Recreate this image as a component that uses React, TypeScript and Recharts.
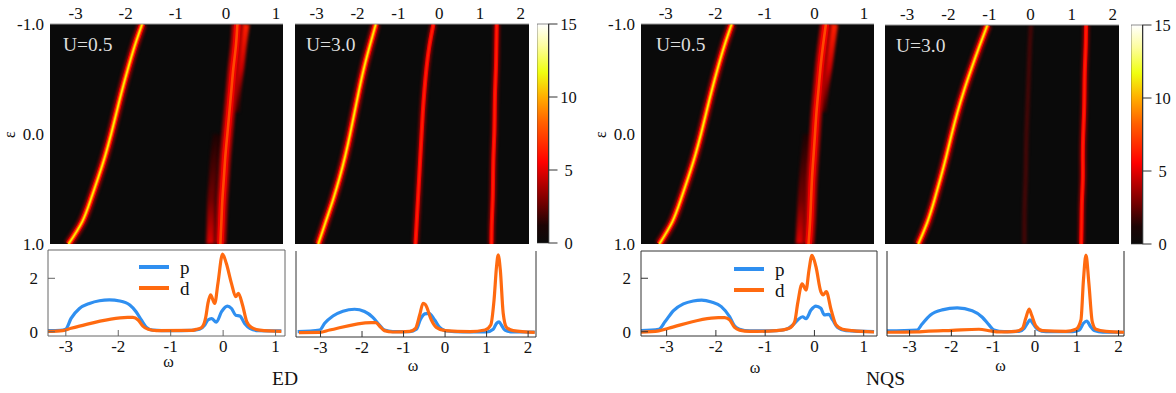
import { ComposedChart, BarChart, Bar, Line, XAxis, YAxis, CartesianGrid, Legend } from 'recharts';

const SERIF = '"Liberation Serif", "Times New Roman", serif';

// energy levels on the vertical axis of the maps
const EPS = [-1, -0.8, -0.6, -0.4, -0.2, 0, 0.2, 0.4, 0.6, 0.8, 1];
const EPS_TOP = [-1, -0.8, -0.6, -0.4, -0.2];
const EPS_BOTTOM = [0, 0.2, 0.4, 0.6, 0.8, 1];

// ED U=0.5 map
const edA_lower = [-1.67, -1.82, -1.95, -2.07, -2.18, -2.29, -2.41, -2.55, -2.7, -2.87, -3.14];
const edA_main = [0.23, 0.2, 0.15, 0.11, 0.07, 0.03, -0.01, -0.04, -0.07, -0.09, -0.11];
const edA_right = [0.4, 0.34, 0.29, 0.23, 0.19];
const edA_left = [-0.18, -0.23, -0.26, -0.29, -0.3, -0.31];

// ED U=3.0 map
const edB_lower = [-1.55, -1.7, -1.84, -1.96, -2.07, -2.18, -2.3, -2.44, -2.6, -2.78, -2.96];
const edB_mid = [-0.14, -0.24, -0.31, -0.36, -0.4, -0.43, -0.46, -0.49, -0.52, -0.55, -0.58];
const edB_upper = [1.41, 1.4, 1.39, 1.37, 1.36, 1.35, 1.33, 1.32, 1.31, 1.29, 1.28];

// NQS U=0.5 map
const nqsA_lower = [-1.67, -1.82, -1.95, -2.07, -2.18, -2.29, -2.41, -2.55, -2.7, -2.87, -3.13];
const nqsA_main = [0.23, 0.17, 0.12, 0.08, 0.04, 0.01, -0.02, -0.05, -0.07, -0.09, -0.12];
const nqsA_right = [0.4, 0.34, 0.28, 0.21, 0.16];
const nqsA_left = [-0.15, -0.19, -0.23, -0.26, -0.28, -0.3];

// NQS U=3.0 map
const nqsB_lower = [-1.05, -1.25, -1.44, -1.62, -1.78, -1.92, -2.05, -2.19, -2.34, -2.51, -2.73];
const nqsB_mid = [0.01, -0.02, -0.04, -0.06, -0.08, -0.1, -0.11, -0.12, -0.14, -0.15, -0.15];
const nqsB_upper = [1.35, 1.34, 1.32, 1.31, 1.3, 1.28, 1.27, 1.27, 1.25, 1.24, 1.23];

// spectra, ED U=0.5
const edA_pw = [-3.34, -3.1, -3.0, -2.9, -2.74, -2.55, -2.36, -2.17, -1.97, -1.78, -1.66, -1.56, -1.46, -1.34, -1.0, -0.6, -0.45, -0.35, -0.29, -0.22, -0.13, -0.03, 0.08, 0.16, 0.24, 0.32, 0.41, 0.51, 0.67, 1.11];
const edA_p = [0.04, 0.05, 0.1, 0.5, 0.87, 1.06, 1.16, 1.19, 1.15, 1.0, 0.75, 0.44, 0.16, 0.06, 0.04, 0.05, 0.09, 0.25, 0.44, 0.49, 0.36, 0.75, 0.96, 0.87, 0.62, 0.59, 0.31, 0.13, 0.04, 0.03];
const edA_dw = [-3.34, -3.06, -2.9, -2.74, -1.82, -1.72, -1.62, -1.53, -1.43, -1.27, -0.6, -0.51, -0.41, -0.33, -0.29, -0.24, -0.16, -0.1, -0.01, 0.06, 0.16, 0.24, 0.29, 0.37, 0.45, 0.54, 0.7, 1.11];
const edA_d = [0.01, 0.04, 0.13, 0.21, 0.54, 0.54, 0.44, 0.21, 0.09, 0.04, 0.05, 0.09, 0.16, 0.56, 1.06, 1.38, 1.06, 1.8, 2.91, 2.56, 1.8, 1.31, 1.44, 1.0, 0.38, 0.16, 0.06, 0.01];

// spectra, ED U=3.0
const edB_pw = [-3.55, -3.02, -2.9, -2.7, -2.46, -2.18, -1.94, -1.74, -1.58, -1.46, -1.26, -0.85, -0.69, -0.6, -0.49, -0.39, -0.25, -0.13, 0.03, 0.43, 1.0, 1.16, 1.24, 1.3, 1.36, 1.44, 1.64, 2.16];
const edB_p = [0.02, 0.1, 0.45, 0.83, 1.08, 1.18, 1.06, 0.76, 0.36, 0.1, 0.02, 0.02, 0.14, 0.62, 0.94, 0.97, 0.62, 0.24, 0.05, 0, 0, 0.14, 0.45, 0.52, 0.35, 0.1, 0, 0];
const edB_dw = [-3.52, -3.02, -2.78, -1.78, -1.67, -1.58, -1.46, -1.26, -0.85, -0.71, -0.61, -0.53, -0.47, -0.33, -0.21, 0, 0.6, 0.96, 1.1, 1.18, 1.24, 1.28, 1.33, 1.4, 1.48, 1.64, 2.16];
const edB_d = [-0.03, -0.02, 0.1, 0.49, 0.49, 0.31, 0.07, 0, 0.03, 0.19, 0.89, 1.49, 1.41, 0.62, 0.24, 0.07, 0.02, 0.1, 0.36, 1.67, 3.4, 4.0, 3.23, 0.97, 0.24, 0.07, -0.02];

// spectra, NQS U=0.5
const nqsA_pw = [-3.52, -3.16, -3.03, -2.86, -2.66, -2.46, -2.29, -2.09, -1.89, -1.72, -1.62, -1.52, -1.31, -0.77, -0.57, -0.44, -0.34, -0.24, -0.17, -0.07, 0.03, 0.13, 0.2, 0.29, 0.37, 0.47, 0.64, 1.21];
const nqsA_p = [0.04, 0.09, 0.38, 0.79, 1.04, 1.15, 1.18, 1.11, 0.94, 0.56, 0.21, 0.09, 0.03, 0.04, 0.09, 0.25, 0.44, 0.56, 0.49, 0.81, 0.96, 0.88, 0.63, 0.65, 0.44, 0.16, 0.04, 0];
const nqsA_dw = [-3.52, -3.16, -2.96, -1.95, -1.82, -1.72, -1.62, -1.52, -1.31, -0.77, -0.51, -0.4, -0.34, -0.25, -0.17, -0.11, -0.05, 0.03, 0.13, 0.18, 0.24, 0.34, 0.44, 0.57, 0.77, 1.21];
const nqsA_d = [-0.02, 0.03, 0.13, 0.53, 0.53, 0.44, 0.16, 0.06, 0.01, 0.04, 0.13, 0.38, 1.06, 1.79, 1.56, 2.31, 2.86, 2.44, 1.5, 1.38, 1.5, 0.81, 0.25, 0.09, 0.04, -0.01];

// spectra, NQS U=3.0
const nqsB_pw = [-3.54, -2.82, -2.7, -2.5, -2.22, -1.86, -1.5, -1.26, -1.1, -0.98, -0.74, -0.38, -0.26, -0.18, -0.12, -0.04, 0.06, 0.26, 0.9, 1.06, 1.16, 1.24, 1.32, 1.42, 1.62, 2.13];
const nqsB_p = [0.07, 0.13, 0.53, 1.13, 1.47, 1.6, 1.42, 0.98, 0.47, 0.13, 0.02, 0.04, 0.24, 0.58, 0.8, 0.53, 0.18, 0.02, 0.02, 0.13, 0.58, 0.73, 0.4, 0.09, -0.02, -0.02];
const nqsB_dw = [-3.54, -2.82, -2.62, -1.98, -1.34, -1.06, -0.86, -0.46, -0.3, -0.22, -0.14, -0.08, 0.02, 0.18, 0.74, 0.98, 1.1, 1.16, 1.22, 1.29, 1.37, 1.46, 1.7, 2.13];
const nqsB_d = [-0.02, 0, 0.04, 0.11, 0.18, 0.07, 0, 0.04, 0.24, 0.91, 1.53, 1.13, 0.4, 0.09, 0.04, 0.18, 0.8, 3.47, 5.13, 3.24, 0.69, 0.18, 0.04, -0.02];

const xTicksA = [-3, -2, -1, 0, 1];
const xTicksB = [-3, -2, -1, 0, 1, 2];
const epsTicks = [-1, 0, 1];
const barTicks = [0, 5, 10, 15];

const BLUE = '#2f8ff0';
const ORANGE = '#ff6a10';

const HOT = [
  { w: 9, c: '#a00000', soft: true },
  { w: 6, c: '#f40000' },
  { w: 3.6, c: '#ff7000' },
  { w: 1.6, c: '#ffec00' },
];
const RED = [
  { w: 6.5, c: '#900000', soft: true },
  { w: 4, c: '#f40000' },
  { w: 1.8, c: '#ff1c00' },
];
const BROAD = [
  { w: 11, c: '#c00000', soft: true },
  { w: 6.5, c: '#ec0000' },
  { w: 2.6, c: '#ff4800' },
];
const DIM = [{ w: 4, c: '#4a0606', soft: true }];
const FADE_UP = [{ w: 8, c: 'url(#fadeUp)', soft: true }];
const FADE_DOWN = [{ w: 7.5, c: 'url(#fadeDown)', soft: true }];

const mapA = (lower, main, right, left) => [
  { omega: left, eps: EPS_BOTTOM, layers: FADE_UP },
  { omega: right, eps: EPS_TOP, layers: FADE_DOWN },
  { omega: main, eps: EPS, layers: BROAD },
  { omega: lower, eps: EPS, layers: HOT },
];

const colormap = [
  { at: 0, c: '#ffffff' },
  { at: 0.1, c: '#fdfda0' },
  { at: 0.22, c: '#f0ff10' },
  { at: 0.33, c: '#ffb000' },
  { at: 0.45, c: '#ff6000' },
  { at: 0.63, c: '#ff0000' },
  { at: 0.82, c: '#700000' },
  { at: 0.92, c: '#1c0404' },
  { at: 1, c: '#0a0a0a' },
];

function MapPanel({ x, y, w, h, domain, ticks, bands, showEps, label, labelX }) {
  const padL = 50;
  const padT = 24;
  const tail = 12;
  return (
    <div style={{ position: 'absolute', left: x - padL, top: y - padT }} className="heat">
      <ComposedChart width={w + padL + 6} height={h + padT + tail} margin={{ top: 0, right: 6, bottom: tail - 1, left: 0 }}>
        <defs>
          <linearGradient id="fadeUp" x1="0" y1="0" x2="0" y2="1">
            <stop offset="0" stopColor="#1c0202" />
            <stop offset="0.6" stopColor="#700000" />
            <stop offset="1" stopColor="#e00000" />
          </linearGradient>
          <linearGradient id="fadeDown" x1="0" y1="0" x2="0" y2="1">
            <stop offset="0" stopColor="#ff2000" />
            <stop offset="0.5" stopColor="#d00000" />
            <stop offset="1" stopColor="#380000" />
          </linearGradient>
        </defs>
        <CartesianGrid fill="#0a0a0a" horizontal={false} vertical={false} />
        <XAxis
          type="number"
          dataKey="x"
          orientation="top"
          height={padT}
          domain={domain}
          ticks={ticks}
          interval={0}
          allowDataOverflow
          stroke="#999"
          tickLine={false}
          tickSize={0}
          tickMargin={5}
        />
        <XAxis
          xAxisId="low"
          type="number"
          dataKey="x"
          orientation="bottom"
          height={1}
          domain={domain}
          ticks={ticks}
          interval={0}
          allowDataOverflow
          axisLine={false}
          tick={false}
          tickSize={-7}
          stroke="#555"
        />
        <YAxis
          type="number"
          dataKey="y"
          width={padL}
          reversed
          domain={[-1, 1]}
          ticks={epsTicks}
          interval={0}
          allowDataOverflow
          axisLine={false}
          tickLine={false}
          tickSize={0}
          tickMargin={6}
          tick={showEps}
          tickFormatter={(v) => v.toFixed(1)}
          label={showEps ? { value: 'ε', angle: -90, position: 'insideLeft', offset: 9, dy: 4 } : undefined}
        />
        {bands.flatMap((b, i) =>
          b.layers.map((l, j) => (
            <Line
              key={`${i}-${j}`}
              className={l.soft ? 'soft' : undefined}
              data={b.eps.map((e, k) => ({ x: b.omega[k], y: e }))}
              dataKey="y"
              type="natural"
              stroke={l.c}
              strokeWidth={l.w}
              dot={false}
              activeDot={false}
              legendType="none"
              isAnimationActive={false}
            />
          ))
        )}
      </ComposedChart>
      <div style={{ position: 'absolute', left: labelX, top: 34, color: '#ddd', fontFamily: SERIF, fontSize: 19.5, lineHeight: '22px' }}>{label}</div>
    </div>
  );
}

const renderKey = ({ payload }) => (
  <div style={{ fontFamily: SERIF, fontSize: 19, color: '#111' }}>
    {payload.map((e) => (
      <div key={e.value} style={{ display: 'flex', alignItems: 'center', height: 21 }}>
        <span style={{ width: 30, height: 3.4, background: e.color, marginRight: 11 }} />
        <span style={{ lineHeight: '21px' }}>{e.value}</span>
      </div>
    ))}
  </div>
);

function SpectrumPanel({ x, y, w, h, domain, yDomain, ticks, yTicks, showY, frame, pw, p, dw, d, keyAt, keyTop, labelShift, labelDrop, sideTicks }) {
  const padL = 40;
  const padT = 4;
  const padB = 50;
  return (
    <div style={{ position: 'absolute', left: x - padL, top: y - padT }}>
      <ComposedChart width={w + padL + 10} height={h + padT + padB} margin={{ top: padT, right: 10, bottom: 0, left: 0 }}>
        <CartesianGrid stroke={frame} horizontalValues={[yDomain[1]]} verticalValues={[domain[1]]} />
        <XAxis
          type="number"
          dataKey="x"
          height={padB}
          domain={domain}
          ticks={ticks}
          interval={0}
          allowDataOverflow
          stroke={frame}
          tickSize={-6}
          tickMargin={10}
          label={{ value: 'ω', position: 'insideBottom', offset: 16, dx: labelShift, dy: labelDrop }}
        />
        <YAxis
          type="number"
          dataKey="y"
          width={padL}
          domain={yDomain}
          ticks={yTicks}
          interval={0}
          allowDataOverflow
          stroke={frame}
          tickSize={-7}
          tickMargin={17}
          tick={!!showY}
        />
        {sideTicks ? (
          <YAxis yAxisId="side" type="number" orientation="right" width={1} domain={yDomain} ticks={sideTicks} interval={0} tick={false} tickSize={6} stroke="#aaa" axisLine={false} />
        ) : null}
        <Line name="p" data={pw.map((v, i) => ({ x: v, y: p[i] }))} dataKey="y" type="monotone" stroke={BLUE} strokeWidth={3.2} dot={false} activeDot={false} isAnimationActive={false} />
        <Line name="d" data={dw.map((v, i) => ({ x: v, y: d[i] }))} dataKey="y" type="monotone" stroke={ORANGE} strokeWidth={3.2} dot={false} activeDot={false} isAnimationActive={false} />
        {keyAt ? <Legend content={renderKey} layout="horizontal" verticalAlign="middle" itemSorter={null} wrapperStyle={{ left: keyAt, top: keyTop, width: 70 }} /> : null}
      </ComposedChart>
    </div>
  );
}

function ColorBar({ x, y, h }) {
  return (
    <div style={{ position: 'absolute', left: x, top: y - 10 }}>
      <BarChart width={46} height={h + 20} data={[{ name: 'scale', v: 15 }]} margin={{ top: 10, right: 0, bottom: 10, left: 0 }} barCategoryGap={0}>
        <defs>
          <linearGradient id="cmap" x1="0" y1="0" x2="0" y2="1">
            {colormap.map((s) => (
              <stop key={s.at} offset={s.at} stopColor={s.c} />
            ))}
          </linearGradient>
        </defs>
        <XAxis dataKey="name" hide />
        <YAxis
          orientation="right"
          width={34.5}
          domain={[0, 15]}
          ticks={barTicks}
          interval={0}
          stroke="#333"
          tickSize={9}
          tick={(t) => (
            <text x={t.x + 9} y={t.y + 5.5} textAnchor="middle" fill="#111" fontSize={16.5} fontFamily={SERIF}>
              {t.payload.value}
            </text>
          )}
        />
        <Bar dataKey="v" fill="url(#cmap)" stroke="#444" strokeWidth={0.6} isAnimationActive={false} />
      </BarChart>
    </div>
  );
}

const caption = (text, left) => (
  <div style={{ position: 'absolute', left, top: 368, fontFamily: SERIF, fontSize: 19.5, lineHeight: '22px', color: '#111' }}>{text}</div>
);

export default function App() {
  return (
    <div style={{ position: 'absolute', left: 0, top: 0, width: 1176, height: 393, background: '#fff', overflow: 'hidden' }}>
      <style>{`
        .heat .recharts-line-curve { filter: blur(0.6px); }
        .heat .soft .recharts-line-curve { filter: blur(1.5px); }
        .recharts-cartesian-axis-tick-value, .recharts-label { font-family: ${SERIF}; font-size: 17px; fill: #111; }
        .recharts-label { font-size: 16px; }
      `}</style>

      <MapPanel x={50} y={24} w={233} h={220} domain={[-3.51, 1.14]} ticks={xTicksA} showEps label="U=0.5" labelX={63} bands={mapA(edA_lower, edA_main, edA_right, edA_left)} />
      <MapPanel
        x={295}
        y={24}
        w={234}
        h={220}
        domain={[-3.53, 2.2]}
        ticks={xTicksB}
        showEps={false}
        label="U=3.0"
        labelX={61}
        bands={[
          { omega: edB_lower, eps: EPS, layers: HOT },
          { omega: edB_mid, eps: EPS, layers: RED },
          { omega: edB_upper, eps: EPS, layers: RED },
        ]}
      />
      <ColorBar x={537} y={24} h={219} />

      <MapPanel x={641} y={24} w={233} h={220} domain={[-3.5, 1.2]} ticks={xTicksA} showEps label="U=0.5" labelX={65} bands={mapA(nqsA_lower, nqsA_main, nqsA_right, nqsA_left)} />
      <MapPanel
        x={885}
        y={25}
        w={234}
        h={219}
        domain={[-3.54, 2.15]}
        ticks={xTicksB}
        showEps={false}
        label="U=3.0"
        labelX={61}
        bands={[
          { omega: nqsB_lower, eps: EPS, layers: HOT },
          { omega: nqsB_mid, eps: EPS, layers: DIM },
          { omega: nqsB_upper, eps: EPS, layers: RED },
        ]}
      />
      <ColorBar x={1131} y={25} h={219} />

      <SpectrumPanel x={48} y={250} w={237} h={86} domain={[-3.34, 1.18]} yDomain={[-0.16, 3.06]} ticks={xTicksA} yTicks={[0, 2]} showY frame="#666" pw={edA_pw} p={edA_p} dw={edA_dw} d={edA_d} keyAt={131} keyTop={10.5} labelShift={2} labelDrop={-3} />
      <SpectrumPanel x={296} y={251} w={240} h={86} domain={[-3.59, 2.19]} yDomain={[-0.26, 4.2]} ticks={xTicksB} yTicks={[0, 2]} frame="#333" pw={edB_pw} p={edB_p} dw={edB_dw} d={edB_d} labelShift={-3} labelDrop={0} />
      <SpectrumPanel x={641} y={251} w={237} h={85} domain={[-3.52, 1.27]} yDomain={[-0.16, 3.02]} ticks={xTicksA} yTicks={[0, 2]} showY frame="#333" pw={nqsA_pw} p={nqsA_p} dw={nqsA_dw} d={nqsA_d} keyAt={133} keyTop={11.5} labelShift={-4} labelDrop={3} sideTicks={[0, 1.9]} />
      <SpectrumPanel x={887} y={251} w={237} h={85} domain={[-3.54, 2.13]} yDomain={[-0.27, 5.4]} ticks={xTicksB} yTicks={[0, 2]} frame="#222" pw={nqsB_pw} p={nqsB_p} dw={nqsB_dw} d={nqsB_d} labelShift={-5} labelDrop={1} />

      {caption('ED', 272)}
      {caption('NQS', 866)}
    </div>
  );
}
